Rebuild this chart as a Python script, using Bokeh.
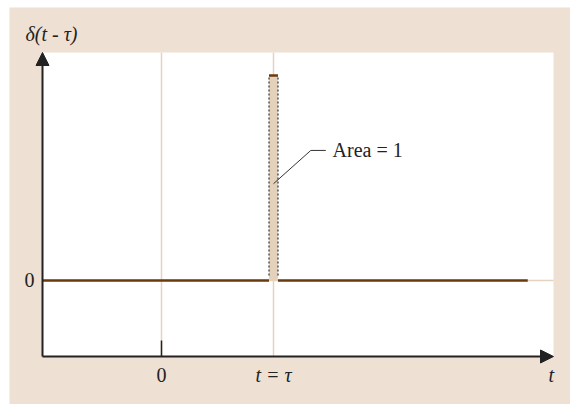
from bokeh.plotting import figure
from bokeh.models import Arrow, NormalHead, Spacer
from bokeh.layouts import column, row
from bokeh.core.properties import value
from bokeh.embed import file_html
from bokeh.resources import INLINE

# Signal description: unit impulse at t = tau, approximated by a narrow pulse
tau = 1.0
pulse_width = 0.08
pulse_area = 1.0
pulse_height = pulse_area / pulse_width
t_min, t_max = -1.0625, 3.5
t_signal_end = 3.27
y_min, y_max = -4.634, 13.9

x_tick_positions = [0.0, tau]
x_tick_labels = ["0", "t = τ"]
x_tick_styles = ["normal", "italic"]
y_tick_positions = [0.0]
y_tick_labels = ["0"]

BG = "#EEE0D3"
GRID = "#E6D3BF"
BROWN = "#6B3A0C"
AXIS = "#222222"
SERIF = value("Liberation Serif")

W, H = 561, 397
px_x = 112.0   # pixels per unit of t
px_y = 16.4    # pixels per unit of amplitude
x_range = (t_min - 33 / px_x, t_max + 17 / px_x)
y_range = (y_min - 48 / px_y, y_max + 45 / px_y)

p = figure(width=W, height=H, x_range=x_range, y_range=y_range,
           output_backend="svg", toolbar_location=None,
           min_border=0, min_border_left=0, min_border_right=0,
           min_border_top=0, min_border_bottom=0,
           background_fill_color=BG, border_fill_color=BG, outline_line_color=None)
p.xaxis.visible = False
p.yaxis.visible = False
p.grid.visible = False

# white plotting area
p.quad(left=[t_min], right=[t_max], bottom=[y_min], top=[y_max],
       fill_color="white", line_color=None)

# light reference lines at t = 0, t = tau and at zero level
p.segment(x0=x_tick_positions, y0=[y_min] * 2, x1=x_tick_positions, y1=[y_max] * 2,
          line_color=GRID, line_width=1.5)
p.segment(x0=[t_min], y0=[0], x1=[t_max], y1=[0], line_color=GRID, line_width=1.5)

# zero level of the signal on both sides of the pulse
p.segment(x0=[t_min, tau + pulse_width / 2], y0=[0, 0],
          x1=[tau - pulse_width / 2, t_signal_end], y1=[0, 0],
          line_color=BROWN, line_width=2.5)

# the pulse itself
p.quad(left=[tau - pulse_width / 2], right=[tau + pulse_width / 2],
       bottom=[0], top=[pulse_height], fill_color="#E4D1BB", line_color=None)
p.segment(x0=[tau - pulse_width / 2, tau + pulse_width / 2], y0=[0.3, 0.3],
          x1=[tau - pulse_width / 2, tau + pulse_width / 2], y1=[pulse_height, pulse_height],
          line_color="#555555", line_width=1.5, line_dash="2 2")
p.segment(x0=[tau - pulse_width / 2], y0=[pulse_height],
          x1=[tau + pulse_width / 2], y1=[pulse_height],
          line_color=BROWN, line_width=2.5)

# leader line and area note
p.line(x=[tau, 1.333, 1.467], y=[5.9, 7.93, 7.93], line_color="#333333", line_width=1)
p.text(x=[1.527], y=[7.93], text=["Area = 1"], text_font=SERIF,
       text_font_size="20px", text_baseline="middle", text_color="#222222")

# axes with arrow heads
p.add_layout(Arrow(x_start=t_min, y_start=y_min, x_end=t_max, y_end=y_min,
                   line_color=AXIS, line_width=2,
                   end=NormalHead(size=13, fill_color=AXIS, line_color=AXIS)))
p.add_layout(Arrow(x_start=t_min, y_start=y_min, x_end=t_min, y_end=y_max,
                   line_color=AXIS, line_width=2,
                   end=NormalHead(size=13, fill_color=AXIS, line_color=AXIS)))
p.segment(x0=[0], y0=[y_min], x1=[0], y1=[-3.66], line_color=AXIS, line_width=1.5)

# tick labels
for xv, lab, style in zip(x_tick_positions, x_tick_labels, x_tick_styles):
    p.text(x=[xv], y=[-5.75], text=[lab], text_font=SERIF,
           text_font_size="20px", text_font_style=style,
           text_align="center", text_baseline="middle", text_color="#222222")
p.text(x=[-1.134], y=y_tick_positions, text=y_tick_labels, text_font=SERIF,
       text_font_size="20px", text_align="right", text_baseline="middle",
       text_color="#222222")

# axis titles
p.text(x=[3.48], y=[-5.75], text=["t"], text_font=SERIF, text_font_size="20px",
       text_font_style="italic", text_align="center", text_baseline="middle",
       text_color="#222222")
p.text(x=[-1.214], y=[15.0], text=["δ(t - τ)"], text_font=SERIF, text_font_size="20px",
       text_font_style="italic", text_align="left", text_baseline="middle",
       text_color="#222222")

layout = column(Spacer(height=7), row(Spacer(width=9), p))
open("out.html", "w").write(file_html(layout, INLINE))
